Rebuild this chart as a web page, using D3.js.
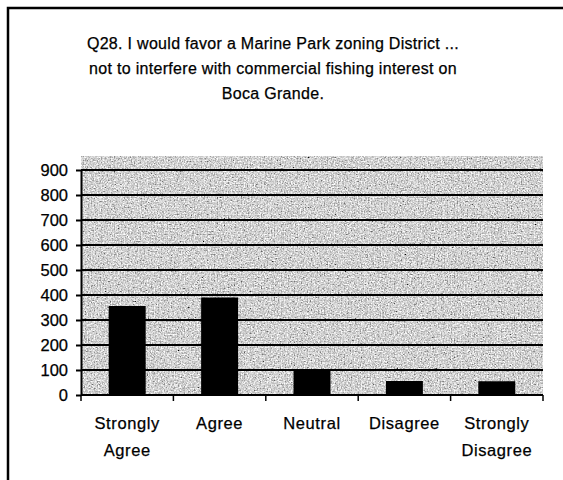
<!DOCTYPE html>
<html>
<head>
<meta charset="utf-8">
<script src="https://cdn.jsdelivr.net/npm/d3@7"></script>
<style>
  body { margin: 0; background: #fff; }
  text { font-family: Arial, "Liberation Sans", sans-serif; fill: #000; stroke: #000; stroke-width: 0.25px; }
</style>
</head>
<body>
<svg width="563" height="480"></svg>
<script>
// data
var categories = ["Strongly Agree", "Agree", "Neutral", "Disagree", "Strongly Disagree"];
var counts = [356, 390, 104, 56, 55];
var yTicks = [0, 100, 200, 300, 400, 500, 600, 700, 800, 900];
var titleLines = [
  "Q28. I would favor a Marine Park zoning District ...",
  "not to interfere with commercial fishing interest on",
  "Boca Grande."
];

var svg = d3.select("svg");

// grainy grey fill like the scanned plot area
var defs = svg.append("defs");
var f = defs.append("filter").attr("id", "grain")
  .attr("x", 0).attr("y", 0).attr("width", 1).attr("height", 1);
f.append("feTurbulence").attr("type", "fractalNoise")
  .attr("baseFrequency", 0.7).attr("numOctaves", 2).attr("seed", 3).attr("result", "n");
f.append("feColorMatrix").attr("in", "n").attr("type", "matrix")
  .attr("values", "0.33 0.33 0.33 0 0  0.33 0.33 0.33 0 0  0.33 0.33 0.33 0 0  0 0 0 0 1")
  .attr("result", "g");
var ct = f.append("feComponentTransfer").attr("in", "g");
["feFuncR", "feFuncG", "feFuncB"].forEach(function(fn) {
  ct.append(fn).attr("type", "linear").attr("slope", 2.4).attr("intercept", -0.55);
});

// frame (only top and left edges show)
svg.append("path")
  .attr("d", "M8,480 V8 H563")
  .attr("fill", "none").attr("stroke", "#000").attr("stroke-width", 2.5);

// title
svg.append("g").selectAll("text")
  .data(titleLines)
  .enter().append("text")
    .attr("x", 273)
    .attr("y", function(d, i) { return 49 + i * 25; })
    .attr("text-anchor", "middle")
    .style("font-size", "16px")
    .style("letter-spacing", "0.3px")
    .text(function(d) { return d; });

var margin = {left: 81, right: 543, top: 156, bottom: 395};

var x = d3.scaleBand()
  .domain(categories)
  .range([margin.left, margin.right])
  .paddingInner(0.6)
  .paddingOuter(0.3);

var y = d3.scaleLinear()
  .domain([0, 900])
  .range([margin.bottom, 170]);

// plot area
svg.append("rect")
  .attr("x", margin.left).attr("y", margin.top)
  .attr("width", margin.right - margin.left)
  .attr("height", margin.bottom - margin.top)
  .attr("fill", "#aaa")
  .attr("filter", "url(#grain)");

// gridlines
svg.append("g").selectAll("line")
  .data(yTicks.slice(1))
  .enter().append("line")
    .attr("x1", margin.left).attr("x2", margin.right)
    .attr("y1", function(d) { return y(d); })
    .attr("y2", function(d) { return y(d); })
    .attr("stroke", "#000").attr("stroke-width", 2);

// bars
svg.append("g").selectAll("rect")
  .data(categories)
  .enter().append("rect")
    .attr("x", function(d) { return x(d); })
    .attr("width", x.bandwidth())
    .attr("y", function(d, i) { return y(counts[i]); })
    .attr("height", function(d, i) { return y(0) - y(counts[i]); })
    .attr("fill", "#000");

// y axis
var yAxis = svg.append("g")
  .attr("transform", "translate(" + margin.left + ",0)")
  .call(d3.axisLeft(y).tickValues(yTicks).tickSize(5).tickPadding(8).tickSizeOuter(0));
yAxis.select(".domain").attr("stroke-width", 2);
yAxis.selectAll(".tick line").attr("stroke-width", 2);
yAxis.selectAll("text").style("font-size", "16.5px").attr("fill", "#000");

// x axis: ticks sit on the band boundaries
var bounds = categories.map(function(d) { return x(d) - x.step() * x.paddingInner() / 2; });
bounds.push(margin.right);
var xAxis = svg.append("g");
xAxis.append("line")
  .attr("x1", margin.left).attr("x2", margin.right)
  .attr("y1", margin.bottom).attr("y2", margin.bottom)
  .attr("stroke", "#000").attr("stroke-width", 2);
xAxis.selectAll(".tk")
  .data(bounds)
  .enter().append("line")
    .attr("class", "tk")
    .attr("x1", function(d) { return d; }).attr("x2", function(d) { return d; })
    .attr("y1", margin.bottom).attr("y2", margin.bottom + 6)
    .attr("stroke", "#000").attr("stroke-width", 1.5);

var lbl = xAxis.selectAll(".lbl")
  .data(categories)
  .enter().append("text")
    .attr("class", "lbl")
    .attr("text-anchor", "middle")
    .attr("x", function(d) { return x(d) + x.bandwidth() / 2; })
    .attr("y", 429)
    .style("font-size", "16.5px")
    .style("letter-spacing", "0.6px");
lbl.selectAll("tspan")
  .data(function(d) { return d.split(" "); })
  .enter().append("tspan")
    .attr("x", function() { return d3.select(this.parentNode).attr("x"); })
    .attr("dy", function(d, i) { return i ? 27 : 0; })
    .text(function(d) { return d; });
</script>
</body>
</html>
